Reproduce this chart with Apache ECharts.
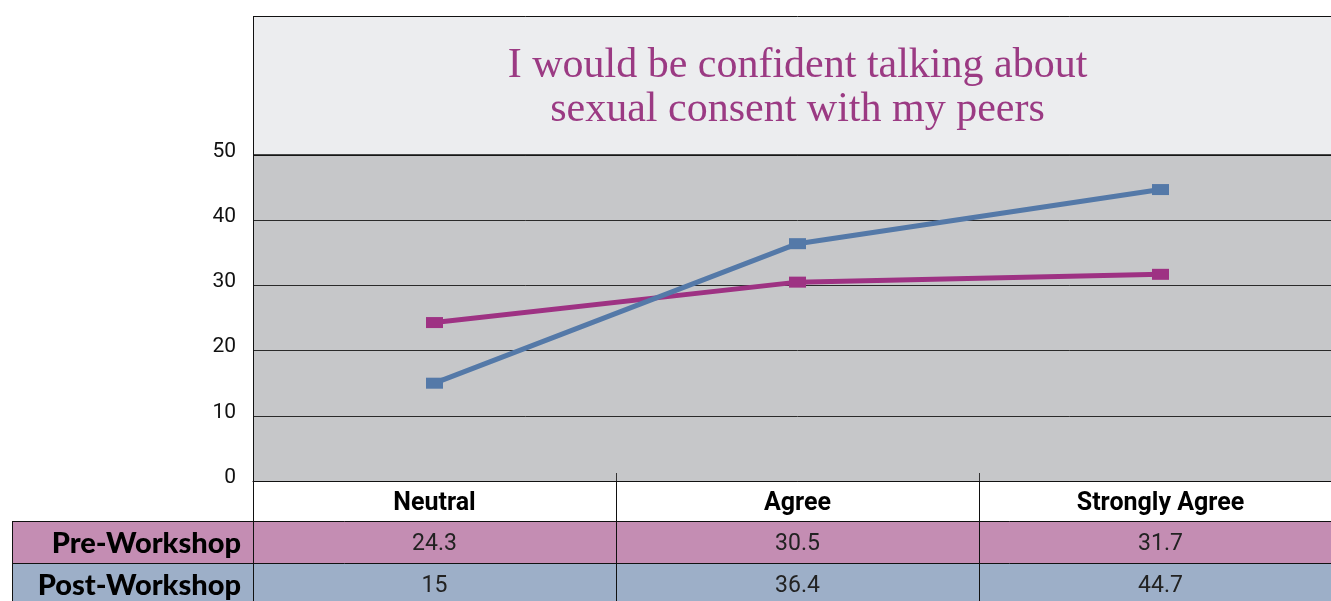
<!DOCTYPE html>
<html><head><meta charset="utf-8">
<script src="https://cdn.jsdelivr.net/npm/echarts@6/dist/echarts.min.js"></script>
<style>html,body{margin:0;padding:0;background:#fff;overflow:hidden;width:1331px;height:601px}#c{width:1342px;height:601px}</style>
</head><body><div id="c"></div>
<script>
const categories = ['Neutral', 'Agree', 'Strongly Agree'];
const preWorkshop = [24.3, 30.5, 31.7];
const postWorkshop = [15, 36.4, 44.7];
const seriesNames = ['Pre-Workshop', 'Post-Workshop'];
const yTicks = [0, 10, 20, 30, 40, 50];
const titleLines = ['I would be confident talking about', 'sexual consent with my peers'];

const PRE = '#9E3283', POST = '#5479A8';
const PRE_ROW = '#C48DB3', POST_ROW = '#9DAFC8';

const chart = echarts.init(document.getElementById('c'), null, {renderer: 'canvas'});
const GRID = {left: 253, top: 155, right: 0, height: 326};

chart.setOption({
  animation: false,
  backgroundColor: '#ffffff',
  grid: {left: GRID.left, top: GRID.top, right: GRID.right, height: GRID.height, show: true,
         backgroundColor: '#C6C7C9', borderWidth: 0, containLabel: false},
  xAxis: {
    type: 'category', data: categories, boundaryGap: true,
    axisLine: {show: true, lineStyle: {color: '#111', width: 1}},
    axisTick: {show: true, inside: true, length: 8, lineStyle: {color: '#333'}},
    axisLabel: {fontFamily: 'Roboto', fontWeight: 'bold', fontSize: 25, color: '#000', margin: 10, lineHeight: 25}
  },
  yAxis: {
    type: 'value', min: yTicks[0], max: yTicks[yTicks.length - 1], interval: 10,
    axisLine: {show: true, lineStyle: {color: '#111', width: 1}},
    axisTick: {show: false},
    splitLine: {show: true, lineStyle: {color: '#2a2a2a', width: 1}},
    axisLabel: {fontFamily: 'Roboto', fontSize: 21, color: '#111', margin: 17, verticalAlign: 'bottom', lineHeight: 7}
  },
  series: [
    {name: seriesNames[0], type: 'line', data: preWorkshop, symbol: 'rect', symbolSize: [17, 11],
     lineStyle: {color: PRE, width: 5}, itemStyle: {color: PRE}, z: 3},
    {name: seriesNames[1], type: 'line', data: postWorkshop, symbol: 'rect', symbolSize: [17, 11],
     lineStyle: {color: POST, width: 5}, itemStyle: {color: POST}, z: 4}
  ]
});

// Build title box and data table from the axis scales
const centers = categories.map((c, i) => chart.convertToPixel({xAxisIndex: 0}, i));
const step = centers.length > 1 ? centers[1] - centers[0] : 1000;
const bounds = [centers[0] - step / 2].concat(centers.map(c => c + step / 2));
const y0 = chart.convertToPixel({yAxisIndex: 0}, yTicks[0]);
const yTop = chart.convertToPixel({yAxisIndex: 0}, yTicks[yTicks.length - 1]);
const W = 1342, H = 601;
const titleTop = 16;
const headerH = 40, preH = 42;
const rowPreTop = y0 + headerH, rowPostTop = rowPreTop + preH;
const tableLeft = 12;
const plotMid = (bounds[0] + bounds[bounds.length - 1]) / 2;

const g = [];
g.push({type: 'rect', shape: {x: bounds[0], y: titleTop, width: W - bounds[0], height: yTop - titleTop},
        style: {fill: '#ECEDEF', stroke: null}, z: -10});
g.push({type: 'line', shape: {x1: bounds[0], y1: titleTop + 0.5, x2: W, y2: titleTop + 0.5}, style: {stroke: '#111', lineWidth: 1}, z: 10});
g.push({type: 'line', shape: {x1: bounds[0], y1: yTop, x2: W, y2: yTop}, style: {stroke: '#111', lineWidth: 1.5}, z: 10});
g.push({type: 'line', shape: {x1: bounds[0] + 0.5, y1: titleTop, x2: bounds[0] + 0.5, y2: H}, style: {stroke: '#111', lineWidth: 1}, z: 10});
g.push({type: 'text', x: plotMid, y: 88,
        style: {text: titleLines.join('\n'), fontFamily: 'Liberation Serif', fontSize: 42, lineHeight: 44,
                fill: '#9B3A83', align: 'center', verticalAlign: 'middle'}, z: 10});
// rows
g.push({type: 'rect', shape: {x: tableLeft, y: rowPreTop, width: W - tableLeft, height: preH}, style: {fill: PRE_ROW}, z: -5});
g.push({type: 'rect', shape: {x: tableLeft, y: rowPostTop, width: W - tableLeft, height: H - rowPostTop}, style: {fill: POST_ROW}, z: -5});
[rowPreTop, rowPostTop].forEach(yy => g.push({type: 'line', shape: {x1: tableLeft, y1: yy + 0.5, x2: W, y2: yy + 0.5}, style: {stroke: '#111', lineWidth: 1}, z: 10}));
g.push({type: 'line', shape: {x1: tableLeft + 0.5, y1: rowPreTop, x2: tableLeft + 0.5, y2: H}, style: {stroke: '#111', lineWidth: 1}, z: 10});
bounds.slice(1).forEach(bx => g.push({type: 'line', shape: {x1: Math.round(bx) + 0.5, y1: y0, x2: Math.round(bx) + 0.5, y2: H}, style: {stroke: '#111', lineWidth: 1}, z: 10}));
// row labels
const rows = [[seriesNames[0], preWorkshop, rowPreTop, preH], [seriesNames[1], postWorkshop, rowPostTop, preH]];
rows.forEach(([name, vals, top, h]) => {
  g.push({type: 'text', x: bounds[0] - 12, y: top + h / 2 + 2,
          style: {text: name, fontFamily: 'Lato', fontWeight: 900, fontSize: 29, fill: '#000', align: 'right', verticalAlign: 'middle'}, z: 10});
  vals.forEach((v, i) => g.push({type: 'text', x: centers[i], y: top + h / 2 + 2,
          style: {text: String(v), fontFamily: 'Roboto', fontSize: 23, fill: '#222', align: 'center', verticalAlign: 'middle'}, z: 10}));
});
chart.setOption({graphic: g});
</script></body></html>
